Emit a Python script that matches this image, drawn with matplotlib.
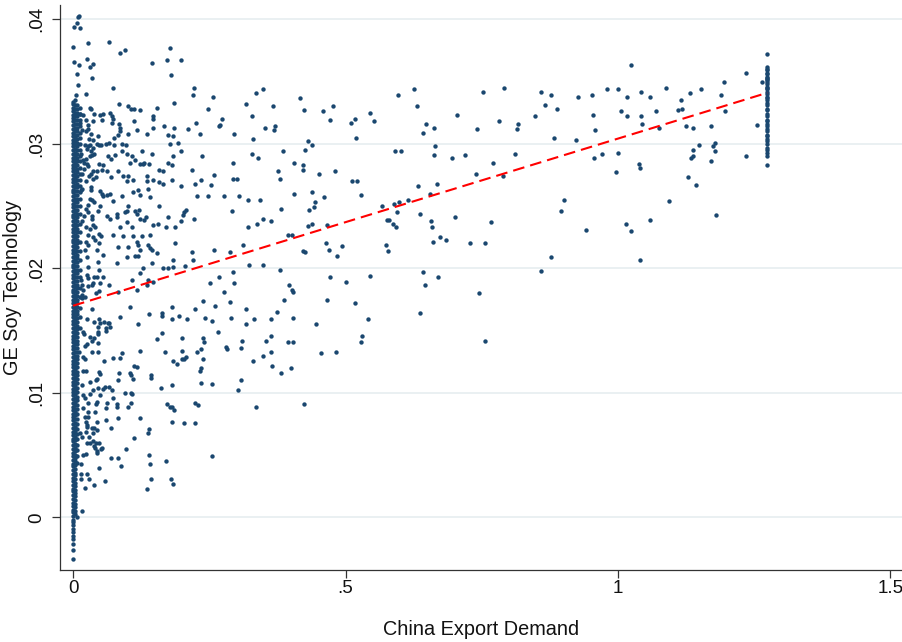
import matplotlib
matplotlib.use("Agg")
import matplotlib.pyplot as plt

plt.rcParams['font.family'] = ['Liberation Sans', 'DejaVu Sans']

# ---------------- data (China Export Demand, GE Soy Technology) ----------------
pts_top = [
    (0.0086,0.0402),(0.0116,0.0403),(0.0018,0.0394),(0.0068,0.0397),(0.0134,0.0393),
    (0.0,0.0378),(0.0281,0.0381),(0.0655,0.0382),(0.0862,0.0373),(0.0954,0.0375),
    (0.178,0.0377),(0.0018,0.0366),(0.0262,0.0368),(0.0361,0.0364),(0.0317,0.0362),
    (0.011,0.0363),(0.0068,0.0356),(0.0343,0.0353),(0.0092,0.0347),(0.145,0.0365),
    (0.172,0.0367),(0.198,0.0367),(0.179,0.0355),(0.074,0.0345),(0.0055,0.0339),
    (0.0239,0.034),(0.2226,0.0345),(0.2208,0.0339),(0.2564,0.0338),(0.3358,0.0341),
    (0.3492,0.0344),(0.4165,0.0337),(0.0844,0.0332),(0.1859,0.0333),(0.2472,0.0328),
    (0.3175,0.0332),(0.3676,0.033),(0.1004,0.033),(0.1059,0.0328),(0.1125,0.0328),
    (0.1229,0.0327),(0.1536,0.0329),(0.0312,0.0329),(0.0679,0.0325),(0.0495,0.0323),
    (0.0128,0.0324),(0.0189,0.0323),(0.1462,0.0322),(0.1474,0.032),(0.2729,0.032),
    (0.2697,0.0315),(0.2685,0.0314),(0.329,0.0322),(0.2252,0.0317),(0.3523,0.0313),
    (0.3707,0.0314),(0.3688,0.0311),(0.0373,0.0318),(0.0532,0.0319),(0.0729,0.032),
    (0.1125,0.0318),(0.0862,0.0313),(0.1169,0.0311),(0.1474,0.0313),(0.167,0.0314),
    (0.1859,0.0313),(0.2105,0.0312),(0.233,0.0308),(0.296,0.0308),(0.1352,0.0308),
    (0.1015,0.0308),(0.0831,0.0307),(0.0464,0.0306),(0.1738,0.0307),(0.1841,0.0306),
    (0.3309,0.0304),(0.1921,0.0301),(0.178,0.03),(0.0894,0.03),(0.0973,0.0299),
    (0.0758,0.0299),(0.0483,0.0299),(0.0281,0.0298),(0.1982,0.0294),(0.3859,0.0294),
    (0.145,0.0292),(0.1261,0.0294),(0.1077,0.029),(0.0894,0.0294),(0.0985,0.0292),
    (0.0771,0.0291),(0.0648,0.029),(0.2362,0.029),(0.3279,0.0292),(0.3389,0.0289),
    (0.2942,0.0285),(0.4061,0.0285),(0.1841,0.029),(0.1738,0.0285),(0.1811,0.0283),
    (0.1584,0.0279),(0.1657,0.0278),(0.1308,0.0285),(0.129,0.0284),(0.1046,0.0285),
    (0.1138,0.0287),(0.2189,0.0279),(0.2587,0.0275),(0.2942,0.0272),(0.3004,0.0272),
    (0.3756,0.0278),(0.3798,0.0272),(0.0831,0.0278),(0.0618,0.0278),(0.0527,0.0279),
    (0.0435,0.0278),(0.0923,0.0274),(0.0985,0.027),(0.1107,0.0271),(0.1352,0.027),
    (0.1015,0.0274),(0.1462,0.0271),(0.1584,0.0269),(0.1652,0.0268),(0.1811,0.0271),
    (0.1976,0.0266),(0.2239,0.0268),(0.2349,0.0271),(0.2532,0.0267),(0.0495,0.0262),
    (0.0679,0.026),(0.1198,0.0263),(0.1107,0.0261),(0.1382,0.0264),(0.2776,0.0258),
    (0.3052,0.0258),(0.3217,0.0255),(0.3431,0.0255),(0.4061,0.026),(0.0343,0.0255),
    (0.074,0.0254),(0.227,0.0258),(0.2472,0.0258),
]

pts_mid = [
    (0.3811,0.0248),(0.2912,0.0246),(0.2042,0.0245),(0.2068,0.0247),(0.2024,0.0243),
    (0.1584,0.025),(0.1138,0.0246),(0.1169,0.0244),(0.0954,0.0245),(0.0802,0.0241),
    (0.0618,0.0242),(0.0985,0.0237),(0.1229,0.024),(0.1308,0.0239),(0.1565,0.0236),
    (0.1474,0.0235),(0.1749,0.0241),(0.1982,0.0238),(0.2226,0.024),(0.3633,0.0238),
    (0.3492,0.024),(0.3217,0.0233),(0.3371,0.0236),(0.3951,0.0227),(0.4013,0.0227),
    (0.3114,0.0219),(0.2593,0.0215),(0.2881,0.0213),(0.3235,0.0203),(0.3492,0.0203),
    (0.3798,0.0199),(0.2178,0.0213),(0.2197,0.0207),(0.1872,0.022),(0.1413,0.0216),
    (0.1444,0.0215),(0.1169,0.0221),(0.1187,0.0219),(0.1004,0.0217),(0.0831,0.0217),
    (0.0483,0.022),(0.0556,0.0211),(0.0813,0.0204),(0.0985,0.0209),(0.1138,0.021),
    (0.1187,0.021),(0.129,0.02),(0.1444,0.0204),(0.1646,0.02),(0.1738,0.02),
    (0.183,0.0201),(0.2055,0.0202),(0.0453,0.0205),(0.027,0.0201),(0.0391,0.0193),
    (0.0435,0.0193),(0.0556,0.0193),(0.0666,0.0187),(0.0343,0.0187),(0.027,0.0192),
    (0.1077,0.0191),(0.1229,0.0196),(0.1382,0.0191),(0.1462,0.0189),(0.2514,0.0188),
    (0.2685,0.0193),(0.2931,0.0197),(0.296,0.0188),(0.2771,0.0181),(0.3969,0.0187),
    (0.4013,0.0183),(0.4032,0.0181),(0.0189,0.0183),(0.0831,0.0181),(0.1169,0.0183),
    (0.1352,0.0187),
]

pts_right_mid = [
    (0.4233,0.0327),(0.4593,0.0326),(0.4771,0.033),(0.4722,0.0319),(0.5096,0.0317),
    (0.5175,0.032),(0.5199,0.0305),(0.545,0.0325),(0.5518,0.0318),(0.5969,0.0339),
    (0.6257,0.0344),(0.6312,0.033),(0.6472,0.0316),(0.6428,0.0309),(0.6624,0.0313),
    (0.6637,0.0298),(0.663,0.0291),(0.5914,0.0294),(0.6013,0.0294),(0.7524,0.0342),
    (0.7915,0.0345),(0.7041,0.0323),(0.7413,0.0312),(0.7812,0.0318),(0.6955,0.0289),
    (0.7193,0.0291),(0.739,0.0276),(0.7702,0.0285),(0.7896,0.0274),(0.8105,0.0292),
    (0.8153,0.0312),(0.8171,0.0316),(0.8483,0.0322),(0.8582,0.0342),(0.8661,0.0331),
    (0.8777,0.0339),(0.8876,0.0328),(0.8826,0.0305),(0.9224,0.0303),(0.9261,0.0338),
    (0.9529,0.0339),(0.9548,0.0323),(0.9573,0.0311),(0.9566,0.0289),
    (0.4226,0.0283),(0.4226,0.0279),(0.4252,0.0295),(0.4312,0.0302),(0.4391,0.0299),
    (0.452,0.0276),(0.4808,0.0278),(0.5114,0.027),(0.5206,0.027),(0.4391,0.0261),
    (0.4435,0.0253),(0.4428,0.0249),(0.4331,0.0247),(0.4606,0.0257),(0.5279,0.0259),
    (0.5665,0.025),(0.589,0.0252),(0.5982,0.0253),(0.594,0.0245),(0.6147,0.0255),
    (0.6336,0.0266),(0.6551,0.026),(0.6679,0.0268),(0.6362,0.0244),(0.6564,0.0238),
    (0.6588,0.0233),(0.66,0.0221),(0.674,0.0225),(0.6839,0.0223),(0.7004,0.0241),
    (0.7285,0.022),(0.7555,0.022),(0.7665,0.0237),(0.8949,0.0246),(0.9016,0.0255),
    (0.9414,0.0231),(0.8766,0.0209),(0.8582,0.0198),(0.5767,0.0239),(0.5804,0.0239),
    (0.5867,0.0236),(0.5922,0.0233),(0.4655,0.0235),(0.438,0.0236),(0.4307,0.0234),
    (0.4648,0.022),(0.4692,0.0215),(0.485,0.021),(0.4942,0.0218),(0.4226,0.0214),
    (0.4257,0.0213),(0.5749,0.0219),(0.5786,0.0214),(0.4716,0.0193),(0.5015,0.0189),
    (0.5444,0.0194),(0.6417,0.0197),(0.6454,0.0187),(0.6698,0.0193),(0.7445,0.018),
    (0.3872,0.0175),(0.4667,0.0175),(0.5175,0.0172),(0.4037,0.016),(0.4459,0.0155),
    (0.5413,0.0159),(0.6367,0.0164),(0.394,0.0141),(0.4037,0.0141),(0.4551,0.0132),
    (0.4821,0.0133),(0.5298,0.0146),(0.5285,0.0141),(0.7555,0.0142),(0.3817,0.0116),
    (0.4006,0.012),(0.4239,0.0091),
]

pts_far = [
    (1.0239,0.0363),(0.9799,0.0344),(1.0001,0.0344),(1.0166,0.0338),(1.0428,0.0342),
    (1.0594,0.0338),(1.0887,0.0345),(1.1316,0.0341),(1.1518,0.0344),(1.1151,0.0335),
    (1.1102,0.0327),(1.1175,0.0328),(1.1951,0.035),(1.1885,0.0339),(1.1964,0.0326),
    (1.2344,0.0357),(1.2643,0.035),(1.0056,0.0326),(1.0166,0.0322),(1.0428,0.0322),
    (1.0441,0.0316),(1.0698,0.0326),(1.0759,0.0313),(1.1243,0.0314),(1.1372,0.0313),
    (1.1713,0.0314),(1.2551,0.0315),(0.9713,0.0292),(1.0006,0.0293),(0.9964,0.0277),
    (1.0381,0.0284),(1.0399,0.0281),(1.1291,0.0273),(1.1426,0.0267),(1.1335,0.0289),
    (1.1372,0.029),(1.1383,0.0295),(1.1487,0.0299),(1.1707,0.0286),(1.1738,0.0298),
    (1.1786,0.0301),(1.1786,0.0294),(1.235,0.029),(1.0943,0.0254),(1.0594,0.0239),
    (1.0153,0.0236),(1.0234,0.023),(1.0399,0.0207),(1.1805,0.0243),
]

pts_low = [
    (0.238,0.0174),(0.2606,0.017),(0.2875,0.0173),(0.3169,0.0167),(0.2428,0.016),
    (0.2545,0.0158),(0.2894,0.016),(0.3169,0.0155),(0.3321,0.0159),(0.3633,0.0159),
    (0.3743,0.0165),(0.2655,0.0149),(0.2391,0.0144),(0.2409,0.0141),(0.2349,0.0135),
    (0.2808,0.0137),(0.2826,0.0135),(0.3096,0.0142),(0.3088,0.0136),(0.3547,0.0142),
    (0.3628,0.0146),(0.3487,0.013),(0.3628,0.0133),(0.3303,0.0126),(0.3652,0.0122),
    (0.2391,0.0127),(0.2349,0.012),(0.233,0.0118),(0.2349,0.0108),(0.2545,0.0107),
    (0.3077,0.011),(0.3033,0.0102),(0.3353,0.0089),(0.2556,0.0049),
]

pts_left_low = [
    (0.0171,0.0176),(0.0354,0.0167),(0.0262,0.0159),(0.0391,0.0157),(0.0483,0.0159),
    (0.0574,0.0157),(0.0606,0.0152),(0.0611,0.015),(0.0637,0.0156),(0.0453,0.0153),
    (0.0453,0.0149),(0.0868,0.0161),(0.1046,0.0169),(0.1187,0.0155),(0.1395,0.0163),
    (0.1628,0.0164),(0.1628,0.0162),(0.1817,0.0169),(0.1822,0.0159),(0.1945,0.0162),
    (0.2086,0.0159),(0.2244,0.0167),(0.2006,0.0144),(0.1995,0.0134),(0.2074,0.0129),
    (0.227,0.0133),(0.1541,0.0143),(0.1628,0.0148),(0.1694,0.0133),(0.1235,0.0134),
    (0.183,0.0126),(0.1903,0.0123),(0.2,0.0127),(0.2042,0.0127),(0.0868,0.0128),
    (0.0905,0.0132),(0.0574,0.0126),(0.0729,0.0128),(0.0354,0.0133),(0.0453,0.0133),
    (0.0464,0.014),(0.0391,0.0144),(0.0453,0.0147),(0.0312,0.0145),(0.0262,0.0139),
    (0.0189,0.0129),(0.022,0.0127),(0.0239,0.0118),(0.0417,0.011),(0.044,0.0111),
    (0.0306,0.0109),(0.0545,0.0103),(0.0373,0.0102),(0.0593,0.0105),(0.0666,0.0105),
    (0.0721,0.0102),(0.082,0.011),(0.0844,0.0116),(0.1046,0.0116),(0.1064,0.0114),
    (0.1119,0.0122),(0.1169,0.0121),(0.1107,0.0111),(0.0949,0.01),(0.1059,0.01),
    (0.1088,0.0099),(0.1615,0.0104),(0.1431,0.0114),(0.1431,0.0112),(0.1811,0.0106),
    (0.0729,0.0096),(0.0802,0.0091),(0.0813,0.0089),(0.1015,0.0089),(0.1064,0.0092),
    (0.0618,0.0092),(0.0606,0.0088),(0.0422,0.0091),(0.0446,0.0093),(0.0495,0.0098),
    (0.0312,0.0099),(0.022,0.0096),(0.0189,0.0088),(0.027,0.0085),(0.027,0.0081),
    (0.0404,0.0085),(0.0831,0.008),(0.0606,0.0078),(0.0703,0.0072),(0.0435,0.0077),
    (0.0385,0.0072),(0.0446,0.007),(0.0233,0.0077),(0.0262,0.0074),(0.0239,0.0069),
    (0.0288,0.0065),(0.0367,0.0068),(0.0251,0.006),(0.0312,0.006),(0.0417,0.006),
    (0.0391,0.0057),(0.0435,0.0053),(0.0508,0.0055),(0.0233,0.0051),(0.0189,0.005),
    (0.0477,0.004),(0.0251,0.0035),(0.0299,0.0031),(0.0391,0.0026),(0.0587,0.0029),
    (0.022,0.0024),(0.0697,0.0048),(0.082,0.0048),(0.0875,0.0041),(0.0973,0.0055),
    (0.1229,0.008),(0.1119,0.0064),(0.1376,0.0068),(0.1395,0.0071),(0.1719,0.0091),
    (0.178,0.0089),(0.1822,0.0089),(0.1853,0.0086),(0.1811,0.0077),(0.2031,0.0076),
    (0.2233,0.0076),(0.2233,0.0092),(0.2299,0.009),(0.14,0.005),(0.1413,0.0043),
    (0.1707,0.0045),(0.1426,0.0031),(0.1358,0.0023),(0.1804,0.0031),(0.1841,0.0027),
    (0.016,0.0005),(0.0361,0.0061),(0.0477,0.006),(0.0404,0.0056),(0.0532,0.0056),
    (0.044,0.0052),(0.0141,0.0031),(0.0141,0.0035),(0.0152,0.0043),(0.0079,0.0),
]

pts_near_axis = [
    (0.033,0.0328),(0.0391,0.0324),(0.0556,0.0324),(0.071,0.0322),(0.071,0.0317),
    (0.0239,0.0319),(0.0281,0.0315),(0.027,0.0312),(0.0128,0.0317),(0.016,0.0311),
    (0.0239,0.031),(0.0325,0.0308),(0.0299,0.0304),(0.0373,0.0303),(0.0435,0.03),
    (0.0519,0.0299),(0.0606,0.03),(0.0666,0.0301),(0.0758,0.0305),(0.0862,0.031),
    (0.0839,0.0316),(0.0306,0.0299),(0.0373,0.0297),(0.0325,0.0294),(0.0354,0.0291),
    (0.0312,0.029),(0.0385,0.0292),(0.022,0.0299),(0.0251,0.0296),(0.0147,0.0292),
    (0.0189,0.0287),(0.0239,0.0288),(0.0202,0.0285),(0.0692,0.0288),(0.0483,0.0284),
    (0.0545,0.0283),(0.0373,0.0278),(0.033,0.0276),(0.0262,0.0284),(0.0281,0.0282),
    (0.0202,0.028),(0.016,0.0276),(0.0299,0.0274),(0.0373,0.0272),(0.0422,0.0273),
    (0.0233,0.027),(0.0325,0.0265),(0.033,0.0263),(0.0141,0.0263),(0.0171,0.0264),
    (0.0692,0.0273),(0.1229,0.0284),(0.1389,0.0284),(0.1358,0.0274),(0.0312,0.0256),
    (0.0385,0.0253),(0.0527,0.026),(0.0556,0.0258),(0.0495,0.025),(0.0453,0.0246),
    (0.027,0.0251),(0.0239,0.0248),(0.0275,0.0245),(0.0343,0.0242),(0.0343,0.024),
    (0.0202,0.0242),(0.016,0.0238),(0.0239,0.0233),(0.0312,0.0232),(0.0373,0.0235),
    (0.0404,0.0233),(0.0618,0.0259),(0.0905,0.0258),(0.0679,0.024),(0.0813,0.0244),
    (0.0862,0.0233),(0.1015,0.025),(0.0985,0.0246),(0.1229,0.0259),(0.1407,0.0257),
    (0.1211,0.0247),(0.134,0.0241),(0.1872,0.0233),(0.1707,0.0233),(0.074,0.0227),
    (0.0923,0.0226),(0.1107,0.0226),(0.1077,0.0233),(0.1261,0.0226),(0.1413,0.0227),
    (0.0483,0.0228),(0.0514,0.0226),(0.0373,0.0225),(0.0404,0.0223),(0.0281,0.0227),
    (0.0239,0.0221),(0.0281,0.0219),(0.022,0.0215),(0.0435,0.0215),(0.0251,0.0209),
    (0.1229,0.0215),(0.1382,0.0219),(0.1536,0.0212),(0.1841,0.0207),(0.0373,0.0188),
    (0.0495,0.0188),(0.0477,0.0199),(0.0281,0.0186),(0.0141,0.0191),(0.0251,0.0195),
    (0.016,0.0187),(0.0417,0.018),(0.0483,0.0182),(0.016,0.0179),(0.022,0.0177),
    (0.0495,0.0156),(0.0666,0.0156),(0.0679,0.0153),(0.0178,0.0149),(0.0202,0.0147),
    (0.0343,0.0142),(0.022,0.0138),(0.0116,0.0133),(0.0189,0.0118),(0.0483,0.0117),
    (0.0495,0.0115),(0.0171,0.0106),(0.0464,0.0104),(0.0189,0.0098),(0.027,0.0092),
    (0.022,0.0081),(0.0251,0.0073),(0.0354,0.0072),(0.0128,0.0068),(0.016,0.0065),
]

# dense band of observations at (near) zero export demand
strip_x_levels = [0.0, 0.004, 0.008, 0.012]
strip_y_0 = [
    -0.0033,-0.0026,-0.0021,-0.0017,-0.0015,-0.0012,-0.0009,-0.0006,-0.0004,-0.0002,
    0.0001,0.0004,0.0006,0.0009,0.0012,0.0015,0.0018,0.0021,0.0023,0.0026,
    0.0029,0.0032,0.0035,0.0038,0.0041,0.0043,0.0046,0.0049,0.0052,0.0055,
    0.0058,0.0061,0.0063,0.0066,0.0069,0.0072,0.0075,0.0078,0.0081,0.0083,
    0.0086,0.0089,0.0092,0.0095,0.0098,0.0101,0.0103,0.0106,0.0109,0.0112,
    0.0115,0.0118,0.0121,0.0123,0.0126,0.0129,0.0132,0.0135,0.0138,0.0141,
    0.0143,0.0146,0.0149,0.0152,0.0155,0.0158,0.0161,0.0163,0.0166,0.0169,
    0.0172,0.0175,0.0178,0.0181,0.0183,0.0186,0.0189,0.0192,0.0195,0.0198,
    0.0201,0.0203,0.0206,0.0209,0.0212,0.0215,0.0218,0.0221,0.0223,0.0226,
    0.0229,0.0232,0.0235,0.0238,0.0241,0.0243,0.0246,0.0249,0.0252,0.0255,
    0.0258,0.0261,0.0263,0.0266,0.0269,0.0272,0.0275,0.0278,0.0281,0.0283,
    0.0286,0.0289,0.0292,0.0295,0.0298,0.0301,0.0303,0.0306,0.0309,0.0312,
    0.0315,0.0318,0.0321,0.0323,0.0326,0.0329,0.0332,0.0334,
]
strip_y_1 = [
    0.0003,0.0005,0.0008,0.0011,0.0014,0.0017,0.0020,0.0022,0.0025,0.0028,
    0.0031,0.0034,0.0036,0.0039,0.0042,0.0045,0.0048,0.0050,0.0053,0.0056,
    0.0059,0.0062,0.0065,0.0068,0.0070,0.0073,0.0076,0.0079,0.0082,0.0085,
    0.0087,0.0090,0.0093,0.0096,0.0099,0.0102,0.0105,0.0107,0.0110,0.0113,
    0.0116,0.0119,0.0122,0.0125,0.0127,0.0130,0.0133,0.0136,0.0139,0.0142,
    0.0145,0.0147,0.0150,0.0153,0.0156,0.0159,0.0162,0.0165,0.0167,0.0170,
    0.0173,0.0176,0.0179,0.0182,0.0185,0.0187,0.0190,0.0193,0.0196,0.0199,
    0.0202,0.0205,0.0207,0.0210,0.0213,0.0216,0.0219,0.0222,0.0225,0.0227,
    0.0230,0.0233,0.0236,0.0239,0.0242,0.0245,0.0247,0.0250,0.0253,0.0256,
    0.0259,0.0262,0.0265,0.0267,0.0270,0.0273,0.0276,0.0279,0.0282,0.0285,
    0.0287,0.0290,0.0293,0.0296,0.0299,0.0302,0.0305,0.0307,0.0310,0.0313,
    0.0316,0.0319,0.0322,0.0325,0.0328,0.0331,0.0335,
]
strip_y_2 = [
    0.0044,0.0049,0.0054,0.0058,0.0063,0.0067,0.0071,0.0075,0.0079,0.0083,
    0.0087,0.0090,0.0094,0.0097,0.0101,0.0104,0.0108,0.0111,0.0114,0.0117,
    0.0121,0.0124,0.0127,0.0130,0.0133,0.0136,0.0139,0.0142,0.0145,0.0148,
    0.0151,0.0154,0.0157,0.0160,0.0163,0.0166,0.0169,0.0172,0.0175,0.0178,
    0.0181,0.0184,0.0187,0.0190,0.0193,0.0196,0.0199,0.0202,0.0205,0.0208,
    0.0211,0.0214,0.0217,0.0220,0.0223,0.0226,0.0229,0.0232,0.0235,0.0238,
    0.0241,0.0244,0.0247,0.0250,0.0253,0.0256,0.0259,0.0262,0.0265,0.0268,
    0.0271,0.0274,0.0277,0.0280,0.0283,0.0286,0.0289,0.0292,0.0295,0.0298,
    0.0301,0.0304,0.0307,0.0310,0.0313,0.0316,0.0319,0.0322,0.0325,0.0328,
    0.0331,
]
strip_y_3 = [
    0.0152,0.0161,0.0168,0.0177,0.0184,0.0193,0.0199,0.0207,0.0214,0.0221,
    0.0229,0.0236,0.0244,0.0250,0.0256,0.0261,0.0266,0.0271,0.0276,0.0281,
    0.0286,0.0290,0.0295,0.0300,0.0305,0.0309,0.0314,0.0319,0.0324,0.0329,
]

# column of observations at the maximum export demand
col_x = 1.274
col_y = [
    0.0372,0.0362,0.0360,0.0359,0.0357,0.0356,0.0354,0.0353,0.0352,0.0351,
    0.0350,0.0348,0.0346,0.0345,0.0344,0.0342,0.0340,0.0338,0.0337,0.0335,
    0.0333,0.0331,0.0328,0.0327,0.0324,0.0322,0.0319,0.0318,0.0316,0.0314,
    0.0312,0.0310,0.0307,0.0306,0.0304,0.0302,0.0300,0.0297,0.0295,0.0293,
    0.0290,0.0283,
]

# linear fit line endpoints
fit_x = [0.0, 1.274]
fit_y = [0.0170, 0.0341]

x_ticks = [0, 0.5, 1, 1.5]
x_tick_labels = ["0", ".5", "1", "1.5"]
y_ticks = [0, 0.01, 0.02, 0.03, 0.04]
y_tick_labels = ["0", ".01", ".02", ".03", ".04"]

# ---------------- assemble ----------------
xs, ys = [], []
for grp in (pts_top, pts_mid, pts_right_mid, pts_far, pts_low, pts_left_low, pts_near_axis):
    for a, b in grp:
        xs.append(a)
        ys.append(b)
for lvl, arr in zip(strip_x_levels, (strip_y_0, strip_y_1, strip_y_2, strip_y_3)):
    xs.extend([lvl] * len(arr))
    ys.extend(arr)
xs.extend([col_x] * len(col_y))
ys.extend(col_y)

navy = '#1a476f'
axis_col = '#333333'

fig = plt.figure(figsize=(9.03, 6.42), dpi=100)
ax = fig.add_axes([60/903, 72/642, 843/903, 565/642])
ax.set_xlim(-0.0239, 1.523)
ax.set_ylim(-0.00422, 0.04115)

ax.set_yticks(y_ticks)
ax.set_yticklabels(y_tick_labels, rotation=90, va='center')
ax.set_xticks(x_ticks)
ax.set_xticklabels(x_tick_labels)

ax.yaxis.grid(True, color='#e8eff1', linewidth=1.3)
ax.set_axisbelow(True)

ax.scatter(xs, ys, s=10, c=navy, linewidths=0, zorder=2)
ax.plot(fit_x, fit_y, color='#ff0000', lw=1.5, ls=(0, (5.6, 2.9)), zorder=3)

for s in ('top', 'right'):
    ax.spines[s].set_visible(False)
for s in ('left', 'bottom'):
    ax.spines[s].set_color(axis_col)
    ax.spines[s].set_linewidth(0.9)

ax.tick_params(axis='both', direction='out', length=5.8, width=0.9, color=axis_col,
               labelsize=13.5, labelcolor='#111111')
ax.tick_params(axis='x', pad=1.5)
ax.tick_params(axis='y', pad=4.5)

ax.set_xlabel('China Export Demand', fontsize=14.3, color='#111111')
ax.set_ylabel('GE Soy Technology', fontsize=14.3, color='#111111')
ax.xaxis.set_label_coords(0.5, -0.106)
ax.xaxis.label.set_va('center')
ax.yaxis.set_label_coords(-0.0563, 0.5)
ax.yaxis.label.set_va('center')

fig.savefig('out.png', dpi=100, facecolor='white')
